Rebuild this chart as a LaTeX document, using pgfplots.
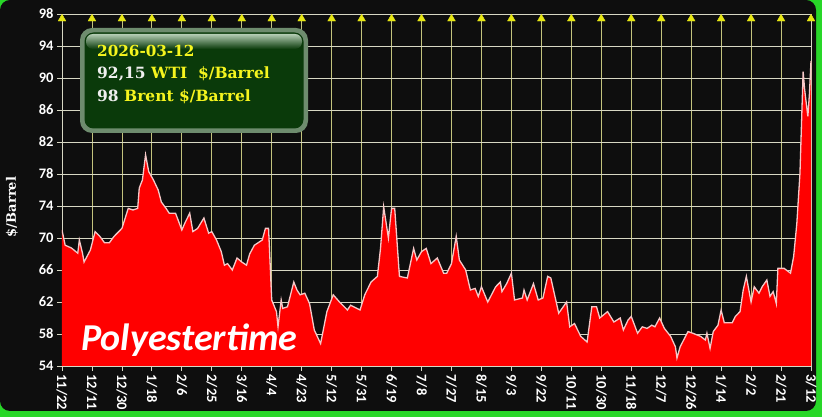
\documentclass[border=0pt]{standalone}
\usepackage{fontspec}
\usepackage{pgfplots}
\usepackage{pgfplotstable}
\pgfplotsset{compat=1.18}
\setmainfont{DejaVu Serif}
\newfontfamily\carlito{Carlito}
\definecolor{bg}{RGB}{14,14,14}
\definecolor{frame}{RGB}{40,215,40}
\definecolor{vgrid}{RGB}{195,195,125}
\definecolor{hgrid}{RGB}{215,215,195}
\definecolor{lineC}{RGB}{245,200,200}
\definecolor{tri}{RGB}{230,230,20}
\definecolor{boxborder}{RGB}{110,140,110}
\definecolor{boxfill}{RGB}{10,58,10}
\definecolor{gloss}{RGB}{180,205,180}
\definecolor{ylw}{RGB}{245,245,30}
\definecolor{wht}{RGB}{240,240,240}

\pgfplotstableread{
x y
0 71.0
2 69.1
6 68.75
10 68.1
11 69.75
13 68.1
14 67.0
18 68.5
21 70.8
24 70.2
27 69.4
30 69.4
33 70.2
38 71.2
42 73.7
45 73.5
48 73.7
49 76.25
51 77.25
53 80.4
55 78.3
58 77.25
61 76.0
63 74.5
66 73.7
68 73.1
72 73.1
76 71.0
78 71.9
81 73.1
83 70.8
86 71.2
90 72.5
93 70.6
95 70.8
98 69.75
101 68.3
103 66.6
105 66.8
108 66.0
111 67.5
114 67.0
117 66.6
119 68.0
122 69.1
127 69.75
129 71.2
131 71.2
133 62.25
136 60.8
137 58.9
139 62.25
140 61.2
143 61.4
147 64.5
149 63.5
151 62.9
154 63.1
157 61.8
160 58.5
164 56.8
168 60.8
172 62.9
176 62.0
181 61.0
183 61.6
189 61.0
192 62.9
196 64.5
200 65.2
202 68.7
204 73.9
207 70.0
209 73.7
211 73.7
214 65.2
219 65.0
223 68.7
225 67.25
228 68.3
231 68.7
234 66.8
238 67.5
242 65.6
244 65.6
247 66.8
250 70.2
252 67.25
256 66.0
259 63.5
262 63.7
264 62.7
266 63.9
270 62.0
275 63.9
278 64.5
279 63.3
282 64.3
285 65.6
287 62.25
292 62.5
293 63.5
295 62.25
299 64.3
302 62.25
305 62.5
308 65.2
310 65.0
315 60.6
320 62.0
322 58.9
325 59.3
329 57.7
333 57.0
336 61.4
339 61.4
341 60.0
346 60.8
350 59.5
354 60.0
356 58.5
359 59.75
361 60.2
365 58.1
368 58.9
371 58.7
374 59.1
376 58.9
379 60.0
382 58.7
386 57.7
389 56.4
390 55.0
392 56.4
397 58.3
400 58.1
405 57.7
408 57.25
409 58.1
411 56.2
413 58.3
416 59.1
418 61.0
420 59.4
425 59.4
427 60.2
430 60.8
432 63.5
434 65.2
437 62.0
439 63.9
442 63.1
444 63.9
447 64.75
449 62.7
451 63.3
453 61.8
454 66.2
458 66.2
462 65.6
464 67.7
466 71.8
468 78.1
470 90.8
471 88.5
473 85.2
474 88.0
475 92.15
}\oil

\begin{document}
\begin{tikzpicture}[x=1pt,y=1pt]
\useasboundingbox (0,0) rectangle (822,417);
\fill[frame] (0,0) rectangle (822,417);
\fill[bg, rounded corners=10pt] (0,6) rectangle (816,417);
\begin{axis}[
  at={(62pt,51pt)}, anchor=south west,
  scale only axis, width=749pt, height=352pt,
  xmin=0, xmax=475, ymin=54, ymax=98,
  xtick={0,19,...,475},
  xticklabels={11/22,12/11,12/30,1/18,2/6,2/25,3/16,4/4,4/23,5/12,5/31,6/19,7/8,7/27,8/15,9/3,9/22,10/11,10/30,11/18,12/7,12/26,1/14,2/2,2/21,3/12},
  ytick={54,58,...,98},
  grid=major,
  major x grid style={vgrid, line width=0.8pt},
  major y grid style={hgrid, line width=0.8pt},
  axis line style={hgrid, line width=0.8pt},
  tick style={hgrid, line width=0.8pt},
  tick align=outside, major tick length=5pt,
  tick pos=left,
  ticklabel style={text=white, font=\carlito\bfseries\fontsize{14.5}{16}\selectfont},
  xticklabel style={rotate=-90, anchor=west},
  /pgf/number format/assume math mode=true,
]
\addplot[fill=red, draw=none] table {\oil} \closedcycle;
\addplot[lineC, line width=1.3pt] table {\oil};
\addplot[only marks, mark=triangle*, mark size=4.5pt, color=tri] coordinates {
(0,97.4) (19,97.4) (38,97.4) (57,97.4) (76,97.4) (95,97.4) (114,97.4) (133,97.4) (152,97.4)
(171,97.4) (190,97.4) (209,97.4) (228,97.4) (247,97.4) (266,97.4) (285,97.4) (304,97.4)
(323,97.4) (342,97.4) (361,97.4) (380,97.4) (399,97.4) (418,97.4) (437,97.4) (456,97.4) (475,97.4)};
\end{axis}
% y label
\node[rotate=90, text=white, font=\bfseries\fontsize{13}{15}\selectfont] at (12,210) {\$/Barrel};
% info box
\fill[boxborder, rounded corners=12pt] (80,284) rectangle (308,389);
\fill[boxfill, rounded corners=9pt] (84.5,288.5) rectangle (303.5,384.5);
\shade[top color=gloss, bottom color=boxfill, rounded corners=7pt] (86,368) rectangle (302,383);
\node[anchor=base west, inner sep=0, font=\bfseries\fontsize{15.2}{18}\selectfont, text=ylw] at (97,360) {2026-03-12};
\node[anchor=base west, inner sep=0, font=\bfseries\fontsize{15.5}{18}\selectfont] at (97,338) {\textcolor{wht}{92,15} \textcolor{ylw}{WTI\ \ \$/Barrel}};
\node[anchor=base west, inner sep=0, font=\bfseries\fontsize{15.5}{18}\selectfont] at (97,315) {\textcolor{wht}{98} \textcolor{ylw}{Brent \$/Barrel}};
% watermark
\node[anchor=base west, inner sep=0, text=white, font=\carlito\bfseries\itshape\fontsize{38}{44}\selectfont] at (81,66) {Polyestertime};
\end{tikzpicture}
\end{document}
